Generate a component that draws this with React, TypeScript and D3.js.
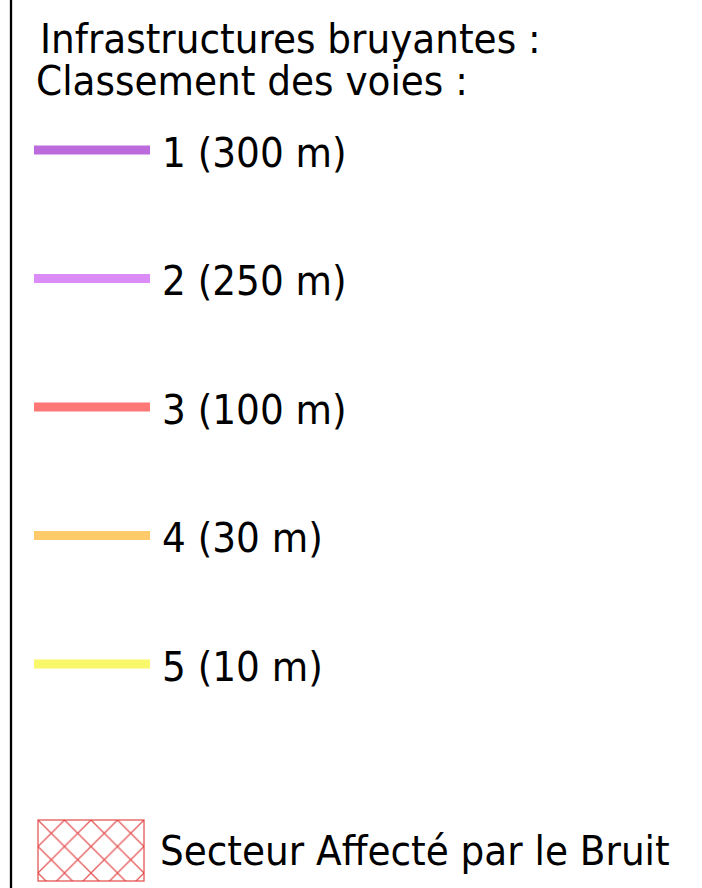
import React from 'react';
import * as d3 from 'd3';

// Légende : classement sonore des voies
const classes = ['1', '2', '3', '4', '5'];
const distances = ['300 m', '250 m', '100 m', '30 m', '10 m'];
const classColors = ['#bb6bdb', '#dc8cf7', '#ff7878', '#ffcb6a', '#f8f86a'];
const titleLines = ['Infrastructures bruyantes :', 'Classement des voies :'];
const sabLabel = 'Secteur Affecté par le Bruit';

const W = 702;
const H = 888;
const FONT = "'DejaVu Sans Condensed', 'DejaVu Sans', sans-serif";

const App: React.FC = () => {
  // position verticale des lignes de légende
  const y = d3.scaleLinear().domain([0, classes.length - 1]).range([150, 664]);
  const x = d3.scaleLinear().domain([0, 1]).range([34, 150]);
  const line = d3.line<[number, number]>();

  return (
    <svg width={W} height={H} style={{ position: 'absolute', left: 0, top: 0, background: '#fff' }}>
      <defs>
        <pattern id="sab" patternUnits="userSpaceOnUse" x={38} y={820} width={26.5} height={26.5}>
          <path d="M0,0L26.5,26.5M26.5,0L0,26.5" stroke="#e03a3a" strokeOpacity={0.85} strokeWidth={1.3} />
        </pattern>
      </defs>

      {/* bord gauche */}
      <line x1={11} x2={11} y1={0} y2={H} stroke="#000" strokeWidth={2.3} />

      <g fontFamily={FONT} fontSize={41.6} fill="#000" style={{ fontStretch: 'condensed' }}>
        <text x={40} y={53}>{titleLines[0]}</text>
        <text x={36} y={95}>{titleLines[1]}</text>

        {classes.map((c, i) => (
          <g key={c}>
            <path
              d={line([[x(0), y(i)], [x(1), y(i)]]) as string}
              stroke={classColors[i]}
              strokeWidth={9}
              fill="none"
            />
            <text x={162} y={y(i) + 16.5}>{`${c} (${distances[i]})`}</text>
          </g>
        ))}

        <rect x={38} y={820} width={106} height={61} fill="url(#sab)" stroke="#e03a3a" strokeOpacity={0.85} strokeWidth={1.3} />
        <text x={160} y={865}>{sabLabel}</text>
      </g>
    </svg>
  );
};

export default App;
